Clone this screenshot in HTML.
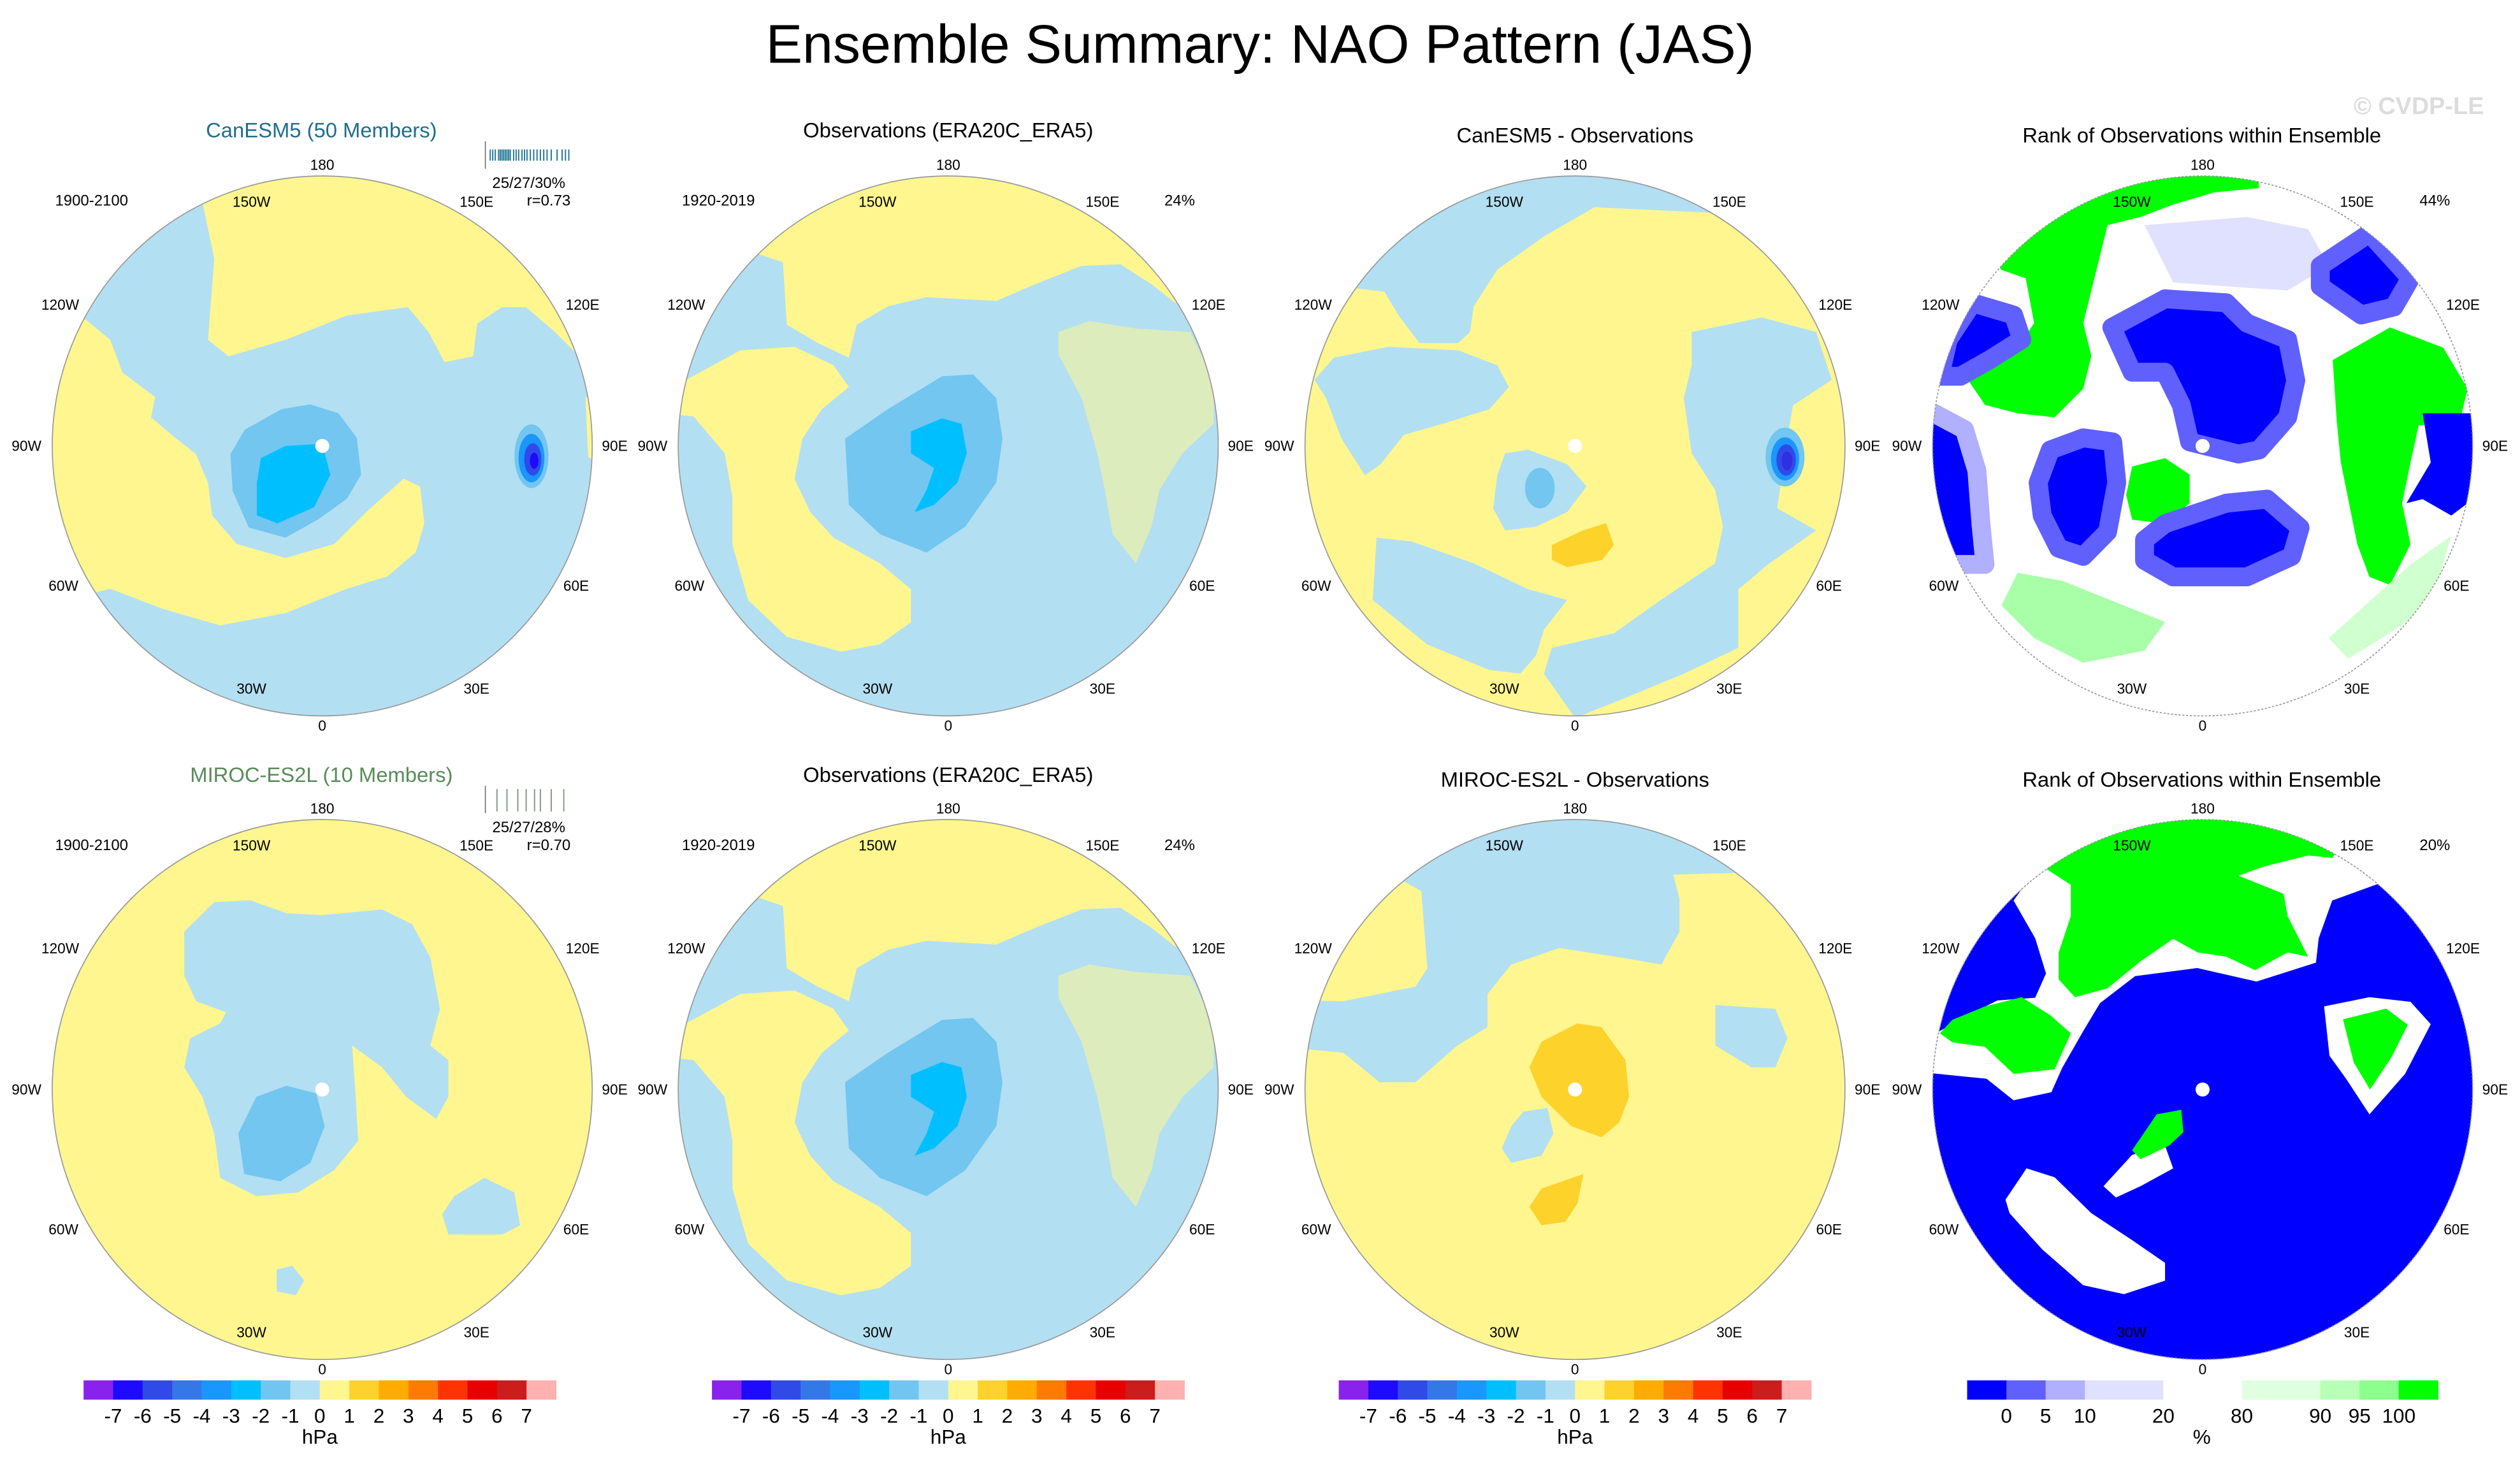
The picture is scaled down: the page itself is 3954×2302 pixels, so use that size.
<!DOCTYPE html>
<html><head><meta charset="utf-8"><style>
html,body{margin:0;padding:0;background:#fff}
svg{display:block}
text{font-family:"Liberation Sans",sans-serif}
</style></head><body>
<svg id="fig" xmlns="http://www.w3.org/2000/svg" width="3954" height="2302" viewBox="0 0 1568 912.9" preserveAspectRatio="none">
<rect width="1568" height="913" fill="#fff"/>
<text x="784" y="39" font-size="34" text-anchor="middle" textLength="615" lengthAdjust="spacingAndGlyphs">Ensemble Summary: NAO Pattern (JAS)</text>
<text x="1505" y="71" font-size="15" font-weight="bold" fill="#dcdcdc" text-anchor="middle">© CVDP-LE</text>
</svg>
<script>
// ---- colorbar data ----
const hpaLevels = [-7,-6,-5,-4,-3,-2,-1,0,1,2,3,4,5,6,7];
const hpaColors = ["#8a22ee","#1e0aff","#2f4ae8","#3478e8","#1a96ff","#00bfff","#70c6f0","#b3dff2","#fff68f","#fdd22a","#ffab00","#ff7a00","#ff3300","#e80000","#cc1c1c","#ffb0b0"];
const rankLevels = ["0","5","10","20","80","90","95","100"];
const rankBoundaryUnits = [1,2,3,5,7,9,10,11];
const rankWidths = [1,1,1,2,2,2,1,1,1];
const rankColors = ["#0000ff","#6060ff","#b0b0ff","#e0e0ff","#ffffff","#e0ffe0","#b8ffb8","#8cff8c","#00ff00"];
const stripTicks1 = [0.02,0.05,0.08,0.12,0.14,0.16,0.18,0.2,0.22,0.24,0.26,0.3,0.33,0.36,0.4,0.43,0.46,0.5,0.54,0.58,0.62,0.66,0.7,0.75,0.82,0.88,0.92,0.96];
const stripTicks2 = [0.1,0.22,0.35,0.45,0.55,0.62,0.75,0.9];

const NS="http://www.w3.org/2000/svg";
const svg=document.getElementById('fig');
const Y="#fff68f",LB="#b3dff2",MB="#72c6f0",CY="#00bfff",OR="#fcd22b";
const R=168;
const colX=[200.5,590,980,1370.5], rowY=[277.5,678];

function mk(tag,parent){const e=document.createElementNS(NS,tag);parent.appendChild(e);return e;}
function txt(parent,x,y,s,size,name,anchor,fill){
  const t=mk('text',parent);
  
  
  t.setAttribute('x',x);t.setAttribute('y',y);t.setAttribute('font-size',size);
  t.setAttribute('text-anchor',anchor||'middle');t.setAttribute('dominant-baseline','central');
  if(fill)t.setAttribute('fill',fill);
  t.textContent=s;return t;
}
function poly(g,pts,fill,name,halo,op){
  const p=mk('polygon',g);
  
  
  let s=[];for(let i=0;i<pts.length;i+=2)s.push(pts[i]+','+pts[i+1]);
  p.setAttribute('points',s.join(' '));p.setAttribute('fill',fill);
  if(halo){p.setAttribute('stroke',halo);p.setAttribute('stroke-width','70');p.setAttribute('stroke-linejoin','round');}
  if(op)p.setAttribute('fill-opacity',op);
}
function ell(g,cx,cy,rx,ry,fill,name){
  const e=mk('ellipse',g);
  
  
  e.setAttribute('cx',cx);e.setAttribute('cy',cy);e.setAttribute('rx',rx);e.setAttribute('ry',ry);e.setAttribute('fill',fill);
}
let clipN=0;
function panel(cx,cy,base,layers,name,dashed){
  const g=mk('g',svg);
  
  
  g.setAttribute('transform',`translate(${cx},${cy}) scale(${R/1000})`);
  const id='c'+(clipN++);
  const cp=mk('clipPath',g);cp.setAttribute('id',id);
  const cc=mk('circle',cp);cc.setAttribute('r',1000);
  const inner=mk('g',g);inner.setAttribute('clip-path',`url(#${id})`);
  const b=mk('rect',inner);b.setAttribute('x',-1000);b.setAttribute('y',-1000);b.setAttribute('width',2000);b.setAttribute('height',2000);b.setAttribute('fill',base);
  layers.forEach(L=>{
    if(L[0]==='p')poly(inner,L[1],L[2],L[3],L[4],L[5]);
    else ell(inner,L[1],L[2],L[3],L[4],L[5],L[6]);
  });
  const ring=mk('circle',g);
  
  
  ring.setAttribute('r',1000);ring.setAttribute('fill','none');ring.setAttribute('stroke','#999');ring.setAttribute('stroke-width','4');
  if(dashed)ring.setAttribute('stroke-dasharray','8 6');
  // lon labels
  const labs=[["180",0,-175],["150W",-44,-152],["150E",96,-152],["120W",-163,-88],["120E",162,-88],["90W",-184,0],["90E",182,0],["60W",-161,87],["60E",158,87],["30W",-44,151],["30E",96,151],["0",0,174]];
  labs.forEach(l=>txt(svg,cx+l[1],cy+l[2],l[0],9,'lon-label-'+l[0].toLowerCase(),'middle'));
}
const dot=['e',0,0,26,26,'#fff','pole-hole'];
const P1=[
 ['p',[-443,-899,-400,-695,-423,-393,-347,-332,-136,-393,91,-483,317,-514,393,-423,453,-310,559,-332,574,-453,665,-514,755,-514,861,-423,937,-347,1200,-600,1200,-1200,-500,-1200],Y,'positive-region-north'],
 ['p',[-876,-468,-785,-393,-740,-272,-619,-181,-634,-106,-544,-30,-468,30,-423,136,-408,257,-317,363,-136,415,45,363,166,242,302,121,363,151,378,287,347,393,242,483,91,529,-136,619,-378,665,-589,604,-785,529,-846,544,-1200,560,-1200,-480],Y,'positive-region-atlantic'],
 ['p',[975,-180,1010,-190,1010,60,985,40],Y,'positive-region-east'],
 ['p',[-287,-60,-151,-136,-45,-154,60,-121,128,-30,144,106,91,196,-15,272,-136,340,-272,302,-332,166,-340,30],MB,'negative-core'],
 ['p',[-227,45,-136,0,0,-8,30,106,-30,227,-166,287,-242,257,-242,136],CY,'negative-center'],
 ['e',775,38,63,118,MB,'east-low'],['e',775,45,48,90,'#1a96ff','east-low-2'],['e',780,50,32,60,'#2f4ae8','east-low-3'],['e',785,55,16,30,'#1e0aff','east-low-4'],
 dot];
const P2=[
 ['p',[-713,-714,-612,-680,-598,-449,-483,-381,-368,-327,-339,-449,-224,-517,-80,-551,178,-537,322,-599,494,-667,638,-673,753,-599,839,-531,1200,-500,1200,-1200,-1200,-1200,-1200,-714],Y,'positive-region-north'],
 ['p',[-971,-245,-770,-354,-569,-367,-425,-299,-368,-218,-468,-136,-540,-27,-569,122,-511,245,-425,340,-253,435,-138,531,-138,653,-253,735,-397,762,-598,707,-741,571,-799,367,-799,190,-828,27,-943,-109,-1200,-136,-1200,-245],Y,'positive-region-america'],
 ['p',[408,-422,523,-463,695,-435,897,-422,983,-245,983,-82,868,27,782,163,753,299,695,435,609,327,580,163,552,27,494,-177,408,-340],Y,'positive-speckle-asia',null,'0.55'],
 ['p',[-382,-27,-224,-136,-23,-258,92,-265,178,-177,201,-27,178,136,63,299,-80,395,-253,327,-368,218],MB,'negative-core'],
 ['p',[-138,-54,-23,-102,49,-82,69,27,34,136,-52,218,-124,245,-80,163,-52,82,-138,27],CY,'negative-center']];
const P3=[
 ['p',[504,-864,72,-884,-115,-776,-288,-653,-375,-517,-389,-422,-432,-381,-576,-381,-648,-476,-706,-571,-821,-585,-1200,-585,-1200,-1200,600,-1200,600,-900],LB,'negative-region-pacific'],
 ['p',[-965,-245,-893,-327,-692,-367,-432,-354,-288,-299,-245,-218,-317,-136,-490,-82,-634,-41,-720,68,-778,109,-865,-27,-922,-177],LB,'negative-region-canada'],
 ['p',[-735,340,-605,354,-375,435,-173,531,-29,571,-115,680,-144,776,-202,843,-317,830,-548,735,-749,571],LB,'negative-region-atlantic'],
 ['p',[432,-422,692,-476,893,-422,951,-245,807,-150,778,27,749,231,893,313,720,435,605,531,605,748,403,844,173,939,0,1007,-115,844,-86,748,144,694,317,571,519,435,548,299,519,163,432,27,403,-177,432,-299],LB,'negative-region-asia'],
 ['p',[-259,27,-173,14,-29,68,43,150,-29,245,-144,299,-259,313,-303,231,-288,109],LB,'negative-region-greenland'],
 ['e',-130,156,55,75,MB,'negative-core'],
 ['p',[-86,367,29,313,115,286,144,367,101,422,-29,449,-86,422],OR,'positive-core-europe'],
 ['e',778,41,72,109,MB,'east-low'],['e',778,48,52,80,'#1a96ff','east-low-2'],['e',782,52,36,58,'#2f4ae8','east-low-3'],['e',785,55,20,35,'#3030e0','east-low-4'],
 dot];
const P5=[
 ['p',[-400,-694,-267,-701,-133,-653,0,-646,222,-667,333,-612,400,-490,436,-299,400,-163,467,-109,467,27,422,109,311,27,222,-82,111,-163,124,27,133,190,44,299,-89,381,-244,395,-378,327,-400,163,-444,27,-511,-82,-489,-190,-378,-245,-356,-286,-467,-327,-511,-422,-511,-585],LB,'negative-region'],
 ['p',[-244,27,-133,-14,-22,14,9,136,-44,272,-156,340,-289,313,-311,163],MB,'negative-core'],
 ['p',[489,395,600,327,711,381,733,503,667,537,467,537,444,463],LB,'negative-region-east'],
 ['p',[-169,667,-111,653,-67,707,-98,762,-169,748],LB,'negative-region-small'],
 dot];
const P7=[
 ['p',[-700,-1200,1200,-1200,1200,-820,364,-796,387,-707,387,-585,320,-463,164,-490,-58,-524,-236,-463,-324,-354,-324,-231,-436,-163,-591,-27,-724,-27,-858,-136,-1000,-150,-1000,-330,-858,-327,-591,-381,-547,-449,-569,-735,-636,-772],LB,'negative-region-pacific'],
 ['p',[520,-313,742,-299,787,-190,742,-82,653,-82,520,-163],LB,'negative-region-asia'],
 ['p',[9,-245,98,-231,187,-109,200,27,164,122,98,177,-13,136,-124,27,-169,-82,-124,-177],OR,'positive-core-arctic'],
 ['p',[31,313,9,422,-36,490,-124,503,-169,435,-124,367],OR,'positive-core-europe'],
 ['p',[-191,82,-102,68,-80,163,-124,245,-236,272,-271,218,-236,136],LB,'negative-region-greenland'],
 dot];
const P4=[
 ['p',[-215,-818,164,-848,391,-803,467,-667,315,-576,88,-591,-109,-606],'#e0e0ff','rank-10-20-north'],
 ['p',[-745,-652,-1000,-1000,200,-1100,209,-955,42,-939,-109,-894,-230,-848,-352,-818,-382,-697,-412,-576,-442,-455,-412,-333,-442,-212,-548,-106,-685,-121,-806,-152,-867,-242,-791,-303,-685,-364,-624,-455,-655,-621],'#00ff00','rank-high-pacific'],
 ['p',[-852,-530,-700,-485,-670,-394,-791,-318,-897,-258,-973,-258,-942,-394],'#0000ff','rank-low-west','#6060ff'],
 ['p',[-995,-121,-882,-61,-836,91,-821,288,-806,439,-882,439,-1100,440,-1100,-121],'#0000ff','rank-low-edge','#b0b0ff'],
 ['p',[-564,15,-442,-30,-333,-15,-318,136,-352,318,-442,409,-533,379,-594,258,-609,136],'#0000ff','rank-low-canada','#6060ff'],
 ['p',[-261,76,-139,45,-48,106,-48,212,-139,288,-261,273,-283,182],'#00ff00','rank-high-greenland'],
 ['p',[-336,-439,-139,-545,88,-530,164,-455,315,-394,345,-242,315,-106,209,15,133,30,-48,-15,-79,-152,-139,-273,-261,-273],'#0000ff','rank-low-arctic','#6060ff'],
 ['p',[-215,348,-139,288,88,212,239,197,361,303,330,409,164,485,-109,485,-215,424],'#0000ff','rank-low-europe','#6060ff'],
 ['p',[436,-667,618,-788,770,-621,709,-515,588,-485,436,-591],'#0000ff','rank-low-northeast','#6060ff'],
 ['p',[482,-318,694,-439,891,-364,982,-212,952,-91,800,-76,770,61,739,212,770,364,694,515,618,485,573,364,512,61,497,-91],'#00ff00','rank-high-asia'],
 ['p',[815,-121,997,-121,1100,-121,1100,260,982,212,921,258,815,197,755,212,845,61],'#0000ff','rank-low-east-edge'],
 ['p',[-685,470,-518,500,-291,591,-139,652,-215,758,-442,803,-624,712,-745,591],'#a8ffa8','rank-high-atlantic'],
 ['p',[467,712,770,439,921,333,845,591,664,712,539,788],'#d0ffd0','rank-high-southeast'],
 dot];
const P8=[
 ['p',[-700,-700,-600,-840,0,-1100,520,-1000,700,-780,480,-700,430,-560,420,-470,200,-400,-20,-450,-250,-420,-380,-320,-440,-220,-520,-80,-560,10,-700,40,-800,-40,-1000,-60,-1000,-200,-900,-260,-760,-330,-620,-340,-580,-430,-620,-560],'#ffffff','rank-mid-band'],
 ['p',[-579,-817,-488,-758,-488,-642,-533,-508,-533,-408,-473,-342,-352,-375,-230,-475,-109,-558,-18,-508,88,-492,194,-442,315,-508,391,-492,315,-642,300,-725,133,-792,224,-825,391,-867,482,-858,600,-1100,-600,-1100],'#00ff00','rank-high-pacific'],
 ['p',[-806,-308,-670,-342,-564,-275,-488,-208,-548,-75,-700,-58,-806,-158,-927,-175,-973,-208,-927,-258],'#00ff00','rank-high-america'],
 ['p',[450,-308,618,-342,770,-325,845,-242,750,-58,618,92,530,-42,470,-125],'#ffffff','rank-mid-asia'],
 ['p',[520,-260,680,-300,760,-240,700,-120,620,0,560,-100],'#00ff00','rank-high-asia'],
 ['p',[-367,358,-261,242,-139,208,-109,292,-230,358,-321,400],'#ffffff','rank-mid-greenland'],
 ['p',[-261,225,-170,92,-79,75,-71,158,-124,208,-230,258],'#00ff00','rank-high-greenland'],
 ['p',[-730,408,-652,292,-548,325,-412,458,-261,558,-139,642,-139,708,-291,758,-442,725,-594,592,-715,458],'#ffffff','rank-mid-atlantic'],
 dot];

panel(colX[0],rowY[0],LB,P1,'canesm5-map');
panel(colX[1],rowY[0],LB,P2,'observations-map-1');
panel(colX[2],rowY[0],Y,P3,'canesm5-minus-obs-map');
panel(colX[3],rowY[0],'#ffffff',P4,'rank-map-1',true);
panel(colX[0],rowY[1],Y,P5,'miroc-es2l-map');
panel(colX[1],rowY[1],LB,P2,'observations-map-2');
panel(colX[2],rowY[1],Y,P7,'miroc-minus-obs-map');
panel(colX[3],rowY[1],'#0000ff',P8,'rank-map-2',true);

// titles
[0,1].forEach(r=>{
  const dy=r*401;
  const t1=txt(svg,200,81+dy,r?'MIROC-ES2L (10 Members)':'CanESM5 (50 Members)',13,'model-title','middle',r?'#5a8a5a':'#1f6e8c');
  txt(svg,590,81+dy,'Observations (ERA20C_ERA5)',13,'obs-title');
  txt(svg,980,84+dy,r?'MIROC-ES2L - Observations':'CanESM5 - Observations',13,'difference-title');
  txt(svg,1370,84+dy,'Rank of Observations within Ensemble',13,'rank-title');
  txt(svg,57,125+dy,'1900-2100',9.5,'model-period');
  txt(svg,329,114+dy,r?'25/27/28%':'25/27/30%',9.5,'pattern-stats');
  txt(svg,355,125+dy,r?'r=0.70':'r=0.73',9.5,'pattern-correlation','end');
  txt(svg,447,125+dy,'1920-2019',9.5,'obs-period');
  txt(svg,734,125+dy,'24%',9.5,'obs-variance');
  txt(svg,1515,125+dy,r?'20%':'44%',9.5,'rank-percent');
  // strip
  const col=r?'#8a9a8a':'#2a7a9a';
  const ticks=r?stripTicks2:stripTicks1;
  const base=mk('line',svg);
  
  
  base.setAttribute('x1',302);base.setAttribute('x2',302);base.setAttribute('y1',88+dy);base.setAttribute('y2',105+dy);base.setAttribute('stroke','#666');base.setAttribute('stroke-width','0.6');
  ticks.forEach((v,i)=>{
    const l=mk('line',svg);
    
    
    const x=304+v*52;
    l.setAttribute('x1',x);l.setAttribute('x2',x);l.setAttribute('y1',(r?90:93)+dy);l.setAttribute('y2',(r?104:100)+dy);
    l.setAttribute('stroke',col);l.setAttribute('stroke-width','0.8');
  });
});

// colorbars
const cbY=859, cbH=12;
[52,443,833].forEach((x0,k)=>{
  const w=294/hpaColors.length;
  hpaColors.forEach((c,i)=>{
    const b=mk('rect',svg);
    
    
    b.setAttribute('x',x0+i*w);b.setAttribute('y',cbY);b.setAttribute('width',w+0.2);b.setAttribute('height',cbH);b.setAttribute('fill',c);
  });
  hpaLevels.forEach((v,i)=>txt(svg,x0+(i+1)*w,881,String(v),12.5,'colorbar-label'));
  txt(svg,x0+147,894,'hPa',12.5,'colorbar-units');
});
{
  const x0=1224,u=293/12;let acc=0;
  rankColors.forEach((c,i)=>{
    const b=mk('rect',svg);
    
    
    b.setAttribute('x',x0+acc*u);b.setAttribute('y',cbY);b.setAttribute('width',rankWidths[i]*u+0.2);b.setAttribute('height',cbH);b.setAttribute('fill',c);
    acc+=rankWidths[i];
  });
  rankLevels.forEach((v,i)=>txt(svg,x0+rankBoundaryUnits[i]*u,881,v,12.5,'rank-colorbar-label'));
  txt(svg,x0+146,894,'%',12.5,'rank-colorbar-units');
}
</script>
</body></html>
